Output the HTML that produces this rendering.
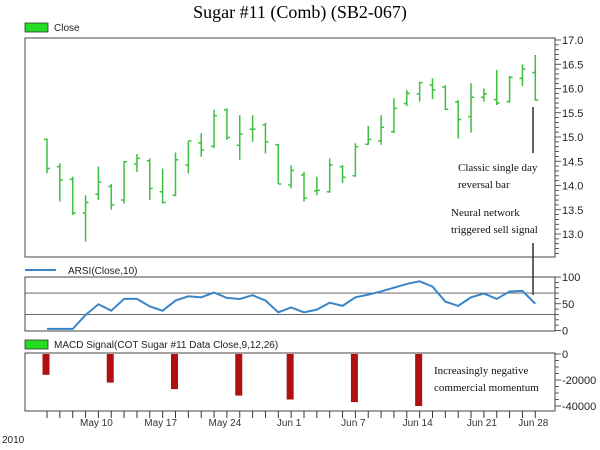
<!DOCTYPE html>
<html><head><meta charset="utf-8"><style>
body{margin:0;background:#fff;width:600px;height:450px;overflow:hidden}
svg{display:block}
text{font-family:"Liberation Sans",sans-serif}
.serif{font-family:"Liberation Serif",serif}
</style></head><body>
<svg id="c" width="600" height="450" xmlns="http://www.w3.org/2000/svg">
<text class="serif" x="300" y="18" font-size="18" text-anchor="middle">Sugar #11 (Comb) (SB2-067)</text>
<rect x="25" y="23" width="23" height="9" fill="#22dd22" stroke="#333" stroke-width="0.8"/>
<text x="54" y="31" font-size="10" fill="#222">Close</text>
<rect x="25" y="38" width="530" height="219" fill="none" stroke="#444"/>
<line x1="25" y1="270" x2="56" y2="270" stroke="#3a86c8" stroke-width="2"/>
<text x="68" y="274" font-size="10" fill="#222">ARSI(Close,10)</text>
<rect x="25" y="277" width="530" height="54" fill="none" stroke="#444"/>
<rect x="25" y="340" width="23" height="9" fill="#22dd22" stroke="#333" stroke-width="0.8"/>
<text x="54" y="348" font-size="10" fill="#222">MACD Signal(COT Sugar #11 Data Close,9,12,26)</text>
<rect x="25" y="353" width="530" height="58" fill="none" stroke="#444"/>
<text x="2" y="443" font-size="10" fill="#222">2010</text>
<g class="serif" font-size="11" fill="#111">
<text class="serif" x="458" y="171">Classic single day</text>
<text class="serif" x="458" y="188">reversal bar</text>
<text class="serif" x="451" y="216">Neural network</text>
<text class="serif" x="451" y="233">triggered sell signal</text>
<text class="serif" x="434" y="374">Increasingly negative</text>
<text class="serif" x="434" y="391">commercial momentum</text>
</g>
<line x1="533" y1="107" x2="533" y2="153" stroke="#333" stroke-width="1.5"/>
<line x1="533" y1="243" x2="533" y2="295" stroke="#333" stroke-width="1.5"/>
<g id="g"></g>
</svg>
<script>
const opens=[14.95,14.39,14.13,13.43,13.82,13.98,13.7,14.44,14.51,13.87,13.8,14.42,14.88,14.81,15.56,14.83,15.16,15.25,14.84,14.01,14.22,13.89,13.87,14.39,14.2,14.85,14.92,15.11,15.69,15.89,16.07,16.03,15.72,15.42,15.82,15.77,15.73,16.21,16.33];
const highs=[14.97,14.46,14.18,13.8,14.39,14.03,14.51,14.65,14.56,14.35,14.68,14.92,15.08,15.56,15.59,15.45,15.45,15.29,14.86,14.42,14.28,14.18,14.56,14.42,14.87,15.23,15.45,15.8,15.97,16.14,16.21,16.07,15.76,16.11,16.0,16.38,16.26,16.5,16.69];
const lows=[14.25,13.67,13.39,12.84,13.7,13.5,13.63,14.28,13.7,13.63,13.78,14.25,14.59,14.77,14.94,14.53,14.9,14.66,14.03,13.94,13.67,13.8,13.85,14.05,14.18,14.84,14.84,15.08,15.64,15.73,15.78,15.56,14.97,15.09,15.73,15.66,15.71,16.05,15.75];
const closes=[14.35,14.11,13.43,13.65,14.07,13.6,14.49,14.56,13.94,13.65,14.53,14.92,14.73,15.44,14.99,15.06,15.16,14.9,14.03,14.31,13.74,13.9,14.42,14.17,14.8,14.95,15.2,15.59,15.9,16.12,15.97,15.57,15.36,15.82,15.89,15.7,16.23,16.4,15.76];
const arsi=[3,3,3,29,49,37,59,59,45,37,56,64,62,71,61,59,66,56,34,43,34,39,52,46,62,67,73,80,87,92,82,54,46,62,69,59,73,74,50];
const macdIdx=[0,5,10,15,19,24,29];
const macdVals=[-16000,-22000,-27000,-32000,-35000,-37000,-40000];
const dateLabels=["May 10","May 17","May 24","Jun 1","Jun 7","Jun 14","Jun 21","Jun 28"];
const dateIdx=[4,9,14,19,24,29,34,38];
const priceTicks=[17.0,16.5,16.0,15.5,15.0,14.5,14.0,13.5,13.0];
const arsiTicks=[100,50,0];
const macdTicks=[0,-20000,-40000];

const NS="http://www.w3.org/2000/svg";
const g=document.getElementById('g');
const X=i=>47+i*12.85;
const Yp=v=>40+(17-v)*48.5;
const Ya=v=>330.5-v*0.535;
const Ym=v=>354-v/20000*26;
function mk(t,a){const e=document.createElementNS(NS,t);for(const k in a)e.setAttribute(k,a[k]);g.appendChild(e);return e;}
[70,30].forEach(v=>{const l=mk('line',{x1:25,x2:555,y1:Ya(v),y2:Ya(v),stroke:'#555','stroke-width':0.8});

});
for(let i=0;i<closes.length;i++){
 const x=X(i);
 const b=mk('path',{d:`M${x},${Yp(highs[i])}V${Yp(lows[i])}M${x-3},${Yp(opens[i])}H${x}M${x},${Yp(closes[i])}H${x+3}`,stroke:'#3fbf3f','stroke-width':1.5,fill:'none'});
 
 
}
const pl=mk('polyline',{points:arsi.map((v,i)=>X(i)+','+Ya(v)).join(' '),fill:'none',stroke:'#3a86c8','stroke-width':2});


macdIdx.forEach((ix,k)=>{const x=X(ix)-1;
 const r=mk('rect',{x:x-3.5,y:Ym(0),width:7,height:Ym(macdVals[k])-Ym(0),fill:'#b01010'});
 
 });
for(let v=12.6;v<=17.001;v+=0.1){const maj=Math.abs(v*2-Math.round(v*2))<0.01;
 mk('line',{x1:555,x2:555+(maj?6:4),y1:Yp(v),y2:Yp(v),stroke:'#333','stroke-width':0.8});}
priceTicks.forEach(v=>{const t=mk('text',{x:562,y:Yp(v)+4,'font-size':11,fill:'#222'});t.textContent=v.toFixed(1);
 
 });
for(let v=0;v<=100;v+=10)mk('line',{x1:555,x2:555+(v%50==0?6:4),y1:Ya(v),y2:Ya(v),stroke:'#333','stroke-width':0.8});
arsiTicks.forEach(v=>{const t=mk('text',{x:562,y:Ya(v)+4,'font-size':11,fill:'#222'});t.textContent=v;
 
 });
for(let v=0;v>=-42000;v-=5000)mk('line',{x1:555,x2:555+(v%20000==0?6:4),y1:Ym(v),y2:Ym(v),stroke:'#333','stroke-width':0.8});
macdTicks.forEach(v=>{const t=mk('text',{x:562,y:Ym(v)+4,'font-size':11,fill:'#222'});t.textContent=v;
 
 });
for(let i=0;i<closes.length;i++)mk('line',{x1:X(i),x2:X(i),y1:411,y2:418,stroke:'#333','stroke-width':1});
dateIdx.forEach((ix,k)=>{const t=mk('text',{x:X(ix)-2,y:426,'font-size':10,fill:'#333','text-anchor':'middle'});t.textContent=dateLabels[k];
 
 });
</script>
</body></html>
